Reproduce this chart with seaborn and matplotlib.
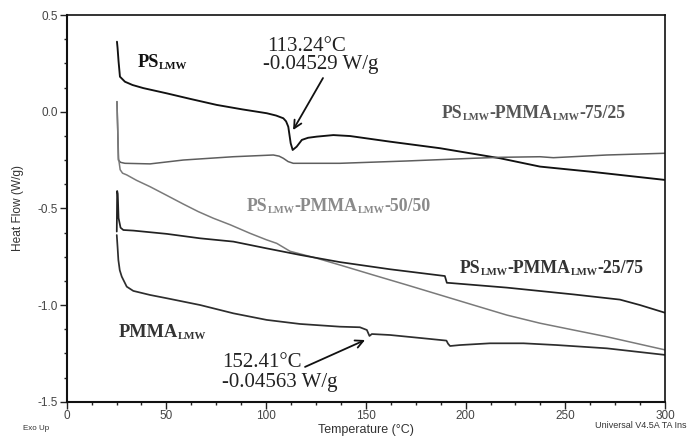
import numpy as np
import pandas as pd
import matplotlib
matplotlib.use("Agg")
import matplotlib.pyplot as plt
import seaborn as sns

# ---- DSC traces: temperature (°C) and heat flow (W/g) ----
ps_T = [25.2, 25.5, 26.0, 26.7, 29.2, 33.0, 38.4, 50.1, 62.0, 75.2, 88.0, 100.3,
        105.0, 108.6, 110.0, 111.1, 112.3, 113.3, 115.3, 117.9, 121.0, 125.4,
        133.7, 142.1, 162.1, 187.2, 217.3, 237.3, 262.4, 300.0]
ps_HF = [0.362, 0.330, 0.260, 0.181, 0.155, 0.138, 0.122, 0.095, 0.066, 0.035,
         0.012, -0.008, -0.020, -0.034, -0.050, -0.078, -0.163, -0.198, -0.181,
         -0.146, -0.135, -0.129, -0.121, -0.126, -0.155, -0.189, -0.241, -0.284,
         -0.310, -0.353]

b7525_T = [25.2, 25.6, 25.9, 27.0, 29.2, 41.8, 58.5, 83.5, 103.6, 106.5, 108.6,
           111.0, 113.6, 125.4, 137.0, 170.5, 203.9, 217.3, 237.3, 244.0, 270.8,
           300.0]
b7525_HF = [0.052, -0.100, -0.250, -0.262, -0.267, -0.270, -0.250, -0.233,
            -0.224, -0.230, -0.241, -0.258, -0.267, -0.267, -0.267, -0.255,
            -0.241, -0.236, -0.233, -0.238, -0.224, -0.215]

b5050_T = [25.2, 25.6, 26.0, 26.8, 28.0, 30.1, 35.0, 41.8, 50.0, 58.5, 66.0,
           73.5, 82.0, 91.9, 100.0, 105.3, 112.0, 125.4, 137.0, 153.8, 170.5,
           187.2, 203.9, 220.7, 237.3, 254.0, 270.8, 300.0]
b5050_HF = [0.052, -0.100, -0.240, -0.300, -0.318, -0.327, -0.355, -0.388,
            -0.432, -0.478, -0.517, -0.551, -0.585, -0.629, -0.662, -0.681,
            -0.722, -0.758, -0.793, -0.845, -0.896, -0.948, -1.000, -1.052,
            -1.094, -1.129, -1.164, -1.232]

b2575_T = [25.1, 25.3, 25.6, 26.0, 27.0, 28.4, 33.4, 50.2, 66.9, 83.6, 100.3,
           117.0, 137.0, 162.1, 189.6, 190.6, 192.2, 220.7, 254.0, 277.4, 287.4,
           300.0]
b2575_HF = [-0.620, -0.410, -0.425, -0.550, -0.600, -0.612, -0.615, -0.632,
            -0.655, -0.672, -0.707, -0.741, -0.778, -0.815, -0.850, -0.885,
            -0.886, -0.910, -0.945, -0.972, -1.000, -1.040]

pmma_T = [25.1, 25.5, 25.9, 26.6, 27.6, 30.1, 33.4, 41.8, 50.2, 66.9, 83.6,
          100.3, 117.0, 137.0, 147.0, 150.5, 151.8, 153.0, 162.1, 178.8, 190.4,
          191.2, 192.2, 197.2, 212.2, 229.0, 245.7, 270.8, 300.0]
pmma_HF = [-0.638, -0.700, -0.767, -0.820, -0.853, -0.905, -0.927, -0.948,
           -0.965, -1.000, -1.043, -1.077, -1.098, -1.112, -1.115, -1.129,
           -1.160, -1.150, -1.155, -1.172, -1.184, -1.200, -1.212, -1.207,
           -1.198, -1.198, -1.207, -1.224, -1.258]

series = [
    ("PS", ps_T, ps_HF, "#111111", 1.35),
    ("75/25", b7525_T, b7525_HF, "#5e5e5e", 1.1),
    ("50/50", b5050_T, b5050_HF, "#7a7a7a", 1.1),
    ("25/75", b2575_T, b2575_HF, "#222222", 1.25),
    ("PMMA", pmma_T, pmma_HF, "#2e2e2e", 1.25),
]

# annotated glass transitions
tg_labels = [("113.24°C", "-0.04529 W/g"), ("152.41°C", "-0.04563 W/g")]

sns.set_style("ticks")
plt.rcParams["font.family"] = ["Liberation Sans", "DejaVu Sans"]

fig = plt.figure(figsize=(6.91, 4.36), dpi=100)
ax = fig.add_axes([0.09653, 0.07867, 0.8659, 0.8869])

for name, T, HF, color, lw in series:
    df = pd.DataFrame({"Temperature": T, "HeatFlow": HF, "sample": name})
    sns.lineplot(data=df, x="Temperature", y="HeatFlow", color=color,
                 linewidth=lw, sort=False, estimator=None, ax=ax, legend=False)

ax.set_xlim(0, 300)
ax.set_ylim(-1.5, 0.5)
ax.set_xticks([0, 50, 100, 150, 200, 250, 300])
ax.set_yticks([0.5, 0.0, -0.5, -1.0, -1.5])
ax.set_yticklabels(["0.5", "0.0", "-0.5", "-1.0", "-1.5"])
ax.xaxis.set_minor_locator(matplotlib.ticker.MultipleLocator(12.5))
ax.yaxis.set_minor_locator(matplotlib.ticker.MultipleLocator(0.125))
ax.tick_params(which="major", direction="out", length=4.8, width=1.0,
               labelsize=8.5, labelcolor="#444444", pad=1.2, color="#222222")
ax.tick_params(which="minor", direction="out", length=2.2, width=1.0,
               color="#222222")
for side in ["left", "bottom", "top", "right"]:
    ax.spines[side].set_visible(True)
    ax.spines[side].set_color("#111111")
    ax.spines[side].set_linewidth(1.5 if side in ("left", "bottom") else 1.2)
ax.set_xlabel("")
ax.set_ylabel("")

fig.text(18 / 691, 1 - 208 / 436, "Heat Flow (W/g)", rotation=90,
         ha="center", va="center", fontsize=8.6, color="#333333")
fig.text(366 / 691, 1 - 430 / 436, "Temperature (°C)", ha="center",
         va="center", fontsize=9, color="#333333")
fig.text(23 / 691, 1 - 428 / 436, "Exo Up", ha="left", va="center",
         fontsize=5.8, color="#333333")
fig.text(595 / 691, 1 - 425 / 436, "Universal V4.5A TA Ins",
         ha="left", va="center", fontsize=6.5, color="#333333")

SERIF = ["Liberation Serif", "DejaVu Serif"]


def sample_label(x, y, parts, color, size=13.2, sub_size=7.8):
    """Bold serif label built from main/subscript pieces placed side by side."""
    base = None
    prev = None
    for text, is_sub in parts:
        fs = sub_size if is_sub else size
        if base is None:
            t = ax.text(x, y, text, fontsize=fs, fontweight="bold",
                        family=SERIF, color=color, ha="left", va="bottom")
            base = t
        else:
            t = ax.annotate(text, xy=(1, 0), xycoords=(prev, base),
                            fontsize=fs, fontweight="bold", family=SERIF,
                            color=color, ha="left", va="bottom")
        prev = t


sample_label(35.7, 0.212, [("PS", False), ("LMW", True)], "#111111")
sample_label(188.2, -0.055, [("PS", False), ("LMW", True), ("-PMMA", False),
                             ("LMW", True), ("-75/25", False)], "#555555",
             size=12.8, sub_size=7.5)
sample_label(90.3, -0.533, [("PS", False), ("LMW", True), ("-PMMA", False),
                            ("LMW", True), ("-50/50", False)], "#8a8a8a",
             size=12.8, sub_size=7.5)
sample_label(197.2, -0.856, [("PS", False), ("LMW", True), ("-PMMA", False),
                             ("LMW", True), ("-25/75", False)], "#333333",
             size=12.8, sub_size=7.5)
sample_label(25.9, -1.184, [("PMMA", False), ("LMW", True)], "#333333")

# glass-transition callouts
ax.text(100.4, 0.314, tg_labels[0][0], fontsize=15, family=SERIF,
        color="#222222", ha="left", va="baseline")
ax.text(98.6, 0.221, tg_labels[0][1], fontsize=15, family=SERIF,
        color="#222222", ha="left", va="baseline")
ax.annotate("", xy=(113.5, -0.095), xytext=(128.5, 0.174),
            arrowprops=dict(arrowstyle="->", color="#111111", lw=1.3,
                            mutation_scale=14, shrinkA=0, shrinkB=0))

ax.text(78.0, -1.319, tg_labels[1][0], fontsize=15, family=SERIF,
        color="#222222", ha="left", va="baseline")
ax.text(78.0, -1.422, tg_labels[1][1], fontsize=15, family=SERIF,
        color="#222222", ha="left", va="baseline")
ax.annotate("", xy=(149.6, -1.181), xytext=(119.5, -1.320),
            arrowprops=dict(arrowstyle="->", color="#111111", lw=1.3,
                            mutation_scale=14, shrinkA=0, shrinkB=0))

fig.savefig("out.png", dpi=100)
